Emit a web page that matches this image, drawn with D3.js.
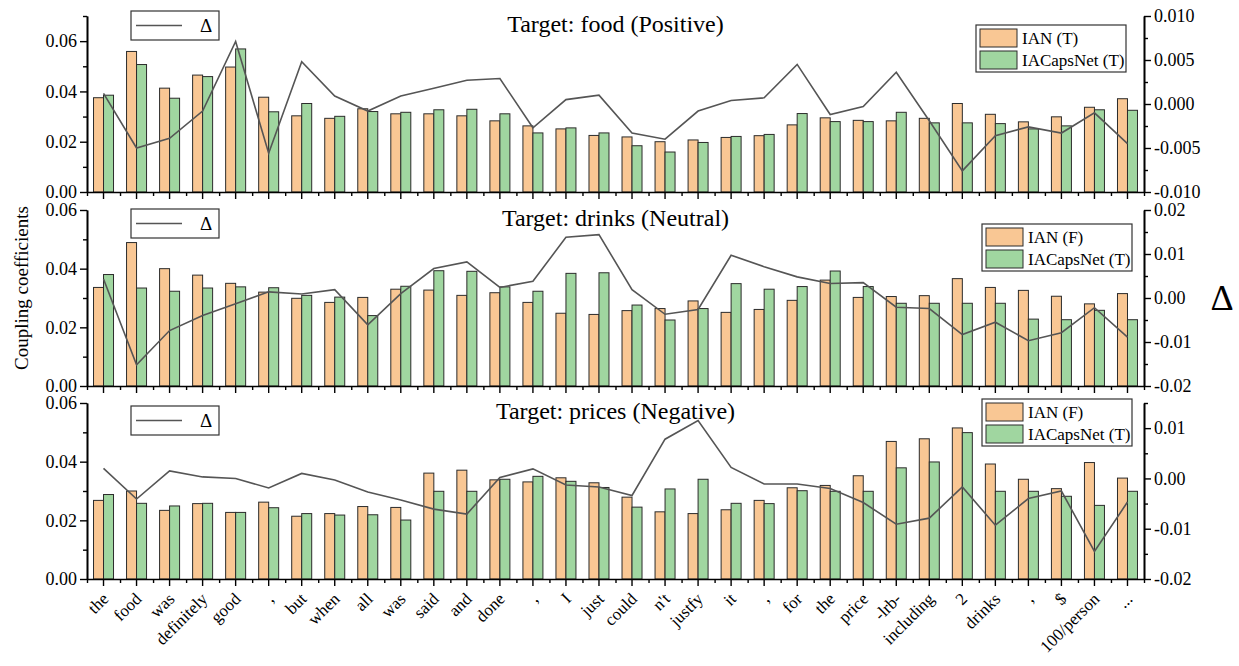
<!DOCTYPE html>
<html>
<head>
<meta charset="utf-8">
<script src="https://cdn.jsdelivr.net/npm/d3@7"></script>
<style>
  body { margin: 0; background: #fff; }
  svg text { font-family: "Liberation Serif", "Times New Roman", serif; fill: #000; }
</style>
</head>
<body>
<svg id="chart" width="1239" height="666"></svg>
<script>
// tokens of the sentence (x axis)
const words = ["the", "food", "was", "definitely", "good", ",", "but", "when", "all", "was",
  "said", "and", "done", ",", "I", "just", "could", "n't", "justfy", "it",
  ",", "for", "the", "price", "-lrb-", "including", "2", "drinks", ",", "$",
  "100/person", "..."];

// target: food
const foodIAN = [0.0375, 0.0559, 0.0413, 0.0465, 0.0497, 0.0377, 0.0303, 0.0293, 0.0331, 0.0311,
  0.0311, 0.0303, 0.0283, 0.0263, 0.0251, 0.0225, 0.0219, 0.0200, 0.0207, 0.0217,
  0.0224, 0.0267, 0.0295, 0.0285, 0.0283, 0.0293, 0.0352, 0.0309, 0.0279, 0.0299,
  0.0337, 0.0371];
const foodCaps = [0.0385, 0.0507, 0.0373, 0.0459, 0.0569, 0.0319, 0.0352, 0.0301, 0.0320, 0.0317,
  0.0327, 0.0329, 0.0311, 0.0235, 0.0255, 0.0235, 0.0184, 0.0159, 0.0197, 0.0221,
  0.0229, 0.0312, 0.0280, 0.0280, 0.0317, 0.0275, 0.0275, 0.0272, 0.0251, 0.0263,
  0.0327, 0.0325];
const foodDelta = [0.0012, -0.0050, -0.0039, -0.0008, 0.0071, -0.0056, 0.0048, 0.0009, -0.0008, 0.0009,
  0.0018, 0.0027, 0.0029, -0.0027, 0.0005, 0.0010, -0.0033, -0.0040, -0.0008, 0.0004,
  0.0007, 0.0045, -0.0012, -0.0003, 0.0036, -0.0019, -0.0076, -0.0036, -0.0026, -0.0033,
  -0.0010, -0.0045];

// target: drinks
const drinksIAN = [0.0336, 0.0489, 0.0400, 0.0378, 0.0350, 0.0320, 0.0299, 0.0285, 0.0302, 0.0330,
  0.0327, 0.0309, 0.0318, 0.0285, 0.0248, 0.0244, 0.0257, 0.0264, 0.0290, 0.0251,
  0.0261, 0.0292, 0.0361, 0.0302, 0.0305, 0.0308, 0.0366, 0.0336, 0.0326, 0.0306,
  0.0280, 0.0315];
const drinksCaps = [0.0380, 0.0334, 0.0323, 0.0334, 0.0338, 0.0335, 0.0309, 0.0303, 0.0240, 0.0340,
  0.0393, 0.0391, 0.0338, 0.0323, 0.0384, 0.0386, 0.0276, 0.0225, 0.0264, 0.0349,
  0.0330, 0.0339, 0.0392, 0.0339, 0.0282, 0.0282, 0.0282, 0.0282, 0.0228, 0.0226,
  0.0258, 0.0226];
const drinksDelta = [0.0043, -0.0152, -0.0074, -0.0040, -0.0013, 0.0014, 0.0009, 0.0019, -0.0061, 0.0010,
  0.0067, 0.0082, 0.0024, 0.0038, 0.0138, 0.0144, 0.0019, -0.0037, -0.0026, 0.0097,
  0.0071, 0.0048, 0.0033, 0.0035, -0.0021, -0.0024, -0.0083, -0.0055, -0.0097, -0.0079,
  -0.0022, -0.0089];

// target: prices
const pricesIAN = [0.0268, 0.0300, 0.0234, 0.0257, 0.0227, 0.0262, 0.0214, 0.0223, 0.0247, 0.0244,
  0.0361, 0.0371, 0.0338, 0.0331, 0.0345, 0.0328, 0.0279, 0.0229, 0.0223, 0.0236,
  0.0268, 0.0311, 0.0319, 0.0352, 0.0469, 0.0478, 0.0515, 0.0392, 0.0340, 0.0308,
  0.0397, 0.0344];
const pricesCaps = [0.0288, 0.0258, 0.0249, 0.0258, 0.0227, 0.0243, 0.0223, 0.0218, 0.0219, 0.0201,
  0.0299, 0.0299, 0.0340, 0.0350, 0.0333, 0.0312, 0.0245, 0.0307, 0.0340, 0.0258,
  0.0257, 0.0301, 0.0299, 0.0299, 0.0379, 0.0399, 0.0499, 0.0299, 0.0299, 0.0282,
  0.0251, 0.0299];
const pricesDelta = [0.0020, -0.0041, 0.0015, 0.0003, 0.0000, -0.0019, 0.0010, -0.0003, -0.0027, -0.0043,
  -0.0061, -0.0071, 0.0002, 0.0019, -0.0013, -0.0017, -0.0034, 0.0078, 0.0115, 0.0022,
  -0.0011, -0.0011, -0.0020, -0.0048, -0.0091, -0.0079, -0.0017, -0.0093, -0.0040, -0.0025,
  -0.0145, -0.0047];

const leftTicks = [0, 0.02, 0.04, 0.06];

const panels = [
  { title: "Target: food (Positive)", ian: foodIAN, caps: foodCaps, delta: foodDelta,
    ianLabel: "IAN (T)", capsLabel: "IACapsNet (T)",
    top: 16, bottom: 192, leftMax: 0.07, rDom: [-0.01, 0.01],
    rMajor: [-0.01, -0.005, 0, 0.005, 0.01], rMinor: [-0.0075, -0.0025, 0.0025, 0.0075], rFmt: ".3f",
    lMinor: [0.01, 0.03, 0.05, 0.07], dBox: -5, lBox: [976, 25] },
  { title: "Target: drinks (Neutral)", ian: drinksIAN, caps: drinksCaps, delta: drinksDelta,
    ianLabel: "IAN (F)", capsLabel: "IACapsNet (T)",
    top: 210, bottom: 386, leftMax: 0.06, rDom: [-0.02, 0.02],
    rMajor: [-0.02, -0.01, 0, 0.01, 0.02], rMinor: [-0.015, -0.005, 0.005, 0.015], rFmt: ".2f",
    lMinor: [0.01, 0.03, 0.05], dBox: -1, lBox: [982, 224] },
  { title: "Target: prices (Negative)", ian: pricesIAN, caps: pricesCaps, delta: pricesDelta,
    ianLabel: "IAN (F)", capsLabel: "IACapsNet (T)",
    top: 403, bottom: 579, leftMax: 0.06, rDom: [-0.02, 0.015],
    rMajor: [-0.02, -0.01, 0, 0.01], rMinor: [-0.015, -0.005, 0.005, 0.015], rFmt: ".2f",
    lMinor: [0.01, 0.03, 0.05], dBox: 3, lBox: [982, 399] }
];

const svg = d3.select("#chart");
const x0 = 87, x1 = 1144;
const orange = "#F9C794", green = "#A0D6A0", barStroke = "#2b2b2b", lineColor = "#555";

const x = d3.scaleBand().domain(d3.range(words.length)).range([x0, x1]).padding(0);
const xEdge = d3.scaleLinear().domain([0, words.length]).range([x0, x1]);
const bw = x.bandwidth();
const barW = 10;
const hyphen = f => d => d3.format(f)(d).replace("\u2212", "-");

function styleAxis(g) {
  g.select(".domain").attr("stroke", "#000").attr("stroke-width", 1.6);
  g.selectAll(".tick line").attr("stroke", "#000").attr("stroke-width", 1.4);
  g.selectAll(".tick text").style("font-size", "18px").attr("fill", "#000");
}

panels.forEach((p, pi) => {
  const y = d3.scaleLinear().domain([0, p.leftMax]).range([p.bottom, p.top]);
  const yR = d3.scaleLinear().domain(p.rDom).range([p.bottom, p.top]);
  const g = svg.append("g");

  // bars
  g.selectAll(".ian").data(p.ian).enter().append("rect")
    .attr("x", (d, i) => x(i) + bw / 2 - barW)
    .attr("y", d => y(d))
    .attr("width", barW)
    .attr("height", d => y(0) - y(d))
    .attr("fill", orange).attr("stroke", barStroke).attr("stroke-width", 1);
  g.selectAll(".caps").data(p.caps).enter().append("rect")
    .attr("x", (d, i) => x(i) + bw / 2)
    .attr("y", d => y(d))
    .attr("width", barW)
    .attr("height", d => y(0) - y(d))
    .attr("fill", green).attr("stroke", barStroke).attr("stroke-width", 1);

  // delta line on right axis
  const line = d3.line().x((d, i) => x(i) + bw / 2).y(d => yR(d));
  g.append("path").datum(p.delta)
    .attr("d", line).attr("fill", "none")
    .attr("stroke", lineColor).attr("stroke-width", 1.6);

  // left axis
  g.append("g").attr("transform", `translate(${x0},0)`)
    .call(d3.axisLeft(y).tickValues(p.lMinor).tickSize(4).tickSizeOuter(0).tickFormat(""))
    .call(styleAxis);
  g.append("g").attr("transform", `translate(${x0},0)`)
    .call(d3.axisLeft(y).tickValues(leftTicks).tickSize(7).tickSizeOuter(0).tickFormat(d3.format(".2f")))
    .call(styleAxis);

  // right axis
  g.append("g").attr("transform", `translate(${x1},0)`)
    .call(d3.axisRight(yR).tickValues(p.rMinor).tickSize(4).tickSizeOuter(0).tickFormat(""))
    .call(styleAxis);
  g.append("g").attr("transform", `translate(${x1},0)`)
    .call(d3.axisRight(yR).tickValues(p.rMajor).tickSize(7).tickSizeOuter(0).tickFormat(hyphen(p.rFmt)))
    .call(styleAxis);

  // bottom axis: minor ticks at band edges, major ticks at word centres
  g.append("g").attr("transform", `translate(0,${p.bottom})`)
    .call(d3.axisBottom(xEdge).tickValues(d3.range(words.length + 1)).tickSize(4).tickSizeOuter(0).tickFormat(""))
    .call(styleAxis);
  const bx = g.append("g").attr("transform", `translate(0,${p.bottom})`)
    .call(d3.axisBottom(x).tickSize(7).tickSizeOuter(0).tickFormat(""))
    .call(styleAxis);
  bx.select(".domain").remove();

  // rotated word labels under the last panel
  if (pi === panels.length - 1) {
    g.append("g").selectAll("text").data(words).enter().append("text")
      .attr("text-anchor", "end")
      .attr("transform", (d, i) => `translate(${x(i) + bw / 2 + 6},${p.bottom + 21}) rotate(-45)`)
      .style("font-size", "17px")
      .text(d => d);
  }

  // title
  g.append("text")
    .attr("x", (x0 + x1) / 2).attr("y", p.top + 16)
    .attr("text-anchor", "middle")
    .style("font-size", "24px")
    .text(p.title);

  // delta legend
  const dl = g.append("g").attr("transform", `translate(131,${p.top + p.dBox})`);
  dl.append("rect").attr("width", 88).attr("height", 29)
    .attr("fill", "#fff").attr("stroke", "#333").attr("stroke-width", 1.2);
  dl.append("line").attr("x1", 5).attr("x2", 51).attr("y1", 14.5).attr("y2", 14.5)
    .attr("stroke", lineColor).attr("stroke-width", 1.6);
  dl.append("text").attr("x", 75).attr("y", 21).attr("text-anchor", "middle")
    .style("font-size", "19px").text("\u0394");

  // bar legend
  const bl = g.append("g").attr("transform", `translate(${p.lBox[0]},${p.lBox[1]})`);
  bl.append("rect").attr("width", 150).attr("height", 47)
    .attr("fill", "#fff").attr("stroke", "#333").attr("stroke-width", 1.2);
  [[orange, p.ianLabel], [green, p.capsLabel]].forEach(([c, t], k) => {
    bl.append("rect").attr("x", 4).attr("y", 4 + k * 22).attr("width", 37).attr("height", 18)
      .attr("fill", c).attr("stroke", barStroke).attr("stroke-width", 1);
    bl.append("text").attr("x", 46).attr("y", 19 + k * 22)
      .style("font-size", "17px").text(t);
  });
});

// axis titles
svg.append("text")
  .attr("transform", "translate(28,288) rotate(-90)")
  .attr("text-anchor", "middle")
  .style("font-size", "19px")
  .text("Coupling coefficients");
svg.append("text")
  .attr("x", 1222).attr("y", 310)
  .attr("text-anchor", "middle")
  .style("font-size", "36px")
  .text("\u0394");
</script>
</body>
</html>
